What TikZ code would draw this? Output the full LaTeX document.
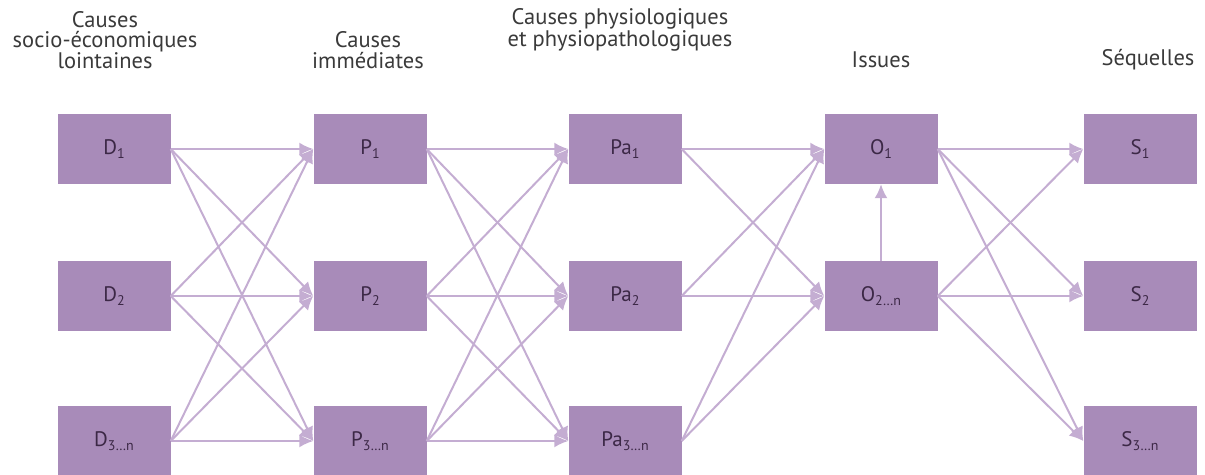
\documentclass[tikz,border=0pt]{standalone}
\usepackage{fontspec}
\setmainfont{PT Sans}
\usetikzlibrary{arrows.meta}
\definecolor{boxfill}{HTML}{A88BB9}
\definecolor{arrowc}{HTML}{C4ADD2}
\definecolor{boxtext}{HTML}{3C2846}
\definecolor{headtext}{HTML}{3A3A3A}
\newcommand{\lowsub}[1]{\raisebox{-0.4ex}{\fontsize{14}{14}\selectfont #1}}
\begin{document}
\begin{tikzpicture}[x=1pt,y=-1pt,
  box/.style={rectangle,fill=boxfill,minimum width=113pt,minimum height=70pt,inner sep=0pt,
    text=boxtext,font=\fontsize{21}{21}\selectfont},
  head/.style={align=center,text=headtext,font=\fontsize{22.5}{20.5}\selectfont,inner sep=0pt},
  conn/.style={draw=arrowc,line width=2pt,-{Latex[length=14pt,width=13pt]}}
]
\useasboundingbox (0,0) rectangle (1205,474);
% headings
\node[head] (h1) at (105,40) {Causes\\socio-économiques\\lointaines};
\node[head] (h2) at (368,50) {Causes\\immédiates};
\node[head] (h3) at (620,30) {Causes physiologiques\\et physiopathologiques};
\node[head] (h4) at (881,60) {Issues};
\node[head] (h5) at (1148,60) {Séquelles};
% boxes
\node[box] (D1) at (114,149) {D\lowsub{1}};
\node[box] (D2) at (114,296) {D\lowsub{2}};
\node[box] (D3) at (114,441) {D\lowsub{3…n}};
\node[box] (P1) at (370,149) {P\lowsub{1}};
\node[box] (P2) at (370,296) {P\lowsub{2}};
\node[box] (P3) at (370,441) {P\lowsub{3…n}};
\node[box] (A1) at (625,149) {Pa\lowsub{1}};
\node[box] (A2) at (625,296) {Pa\lowsub{2}};
\node[box] (A3) at (625,441) {Pa\lowsub{3…n}};
\node[box] (O1) at (881,149) {O\lowsub{1}};
\node[box] (O2) at (881,296) {O\lowsub{2…n}};
\node[box] (S1) at (1140,149) {S\lowsub{1}};
\node[box] (S2) at (1140,296) {S\lowsub{2}};
\node[box] (S3) at (1140,441) {S\lowsub{3…n}};
% connectors
\foreach \a in {1,2,3}{
  \foreach \b in {1,2,3}{
    \draw[conn] (D\a.east) -- (P\b.west);
    \draw[conn] (P\a.east) -- (A\b.west);
  }
  \draw[conn] (A\a.east) -- (O1.west);
  \draw[conn] (A\a.east) -- (O2.west);
  \draw[conn] (O1.east) -- (S\a.west);
  \draw[conn] (O2.east) -- (S\a.west);
}
\draw[conn] (O2.north) -- (O1.south);
\end{tikzpicture}
\end{document}
